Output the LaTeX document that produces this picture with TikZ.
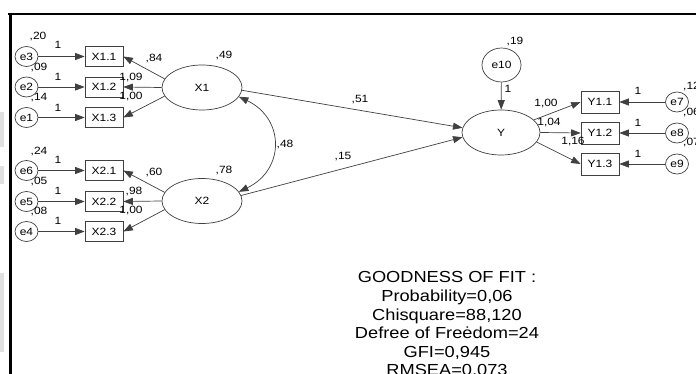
\documentclass[tikz,border=0pt]{standalone}
\usepackage{fontspec}
\setmainfont{Liberation Sans}[FakeStretch=1.14]
\usetikzlibrary{arrows.meta,shapes.geometric}
\begin{document}
\begin{tikzpicture}[x=1pt,y=-1pt,
  every node/.style={font=\fontsize{10.5}{12.5}\selectfont},
  obs/.style={draw=black!75, line width=0.7pt, minimum width=38pt, minimum height=20pt, inner sep=0pt},
  err/.style={ellipse, draw=black!75, line width=0.7pt, minimum width=23pt, minimum height=20pt, inner sep=0pt},
  lat/.style={ellipse, draw=black!75, line width=0.7pt, minimum width=80pt, minimum height=45pt, inner sep=0pt},
  arr/.style={-{Triangle[length=9.5pt,width=7pt]}, draw=black!75, line width=0.7pt},
  darr/.style={{Triangle[length=9.5pt,width=7pt]}-{Triangle[length=9.5pt,width=7pt]}, draw=black!75, line width=0.7pt},
  lbl/.style={inner sep=0pt},
  fit/.style={inner sep=0pt, align=center, font=\fontsize{16}{18.6}\selectfont}
]
\useasboundingbox (0,0) rectangle (696,374);
\fill[white] (0,0) rectangle (696,374);
% screenshot strip on the left
\fill[black!12] (0,112) rectangle (4,147);
\fill[black!12] (0,166) rectangle (4,184);
\fill[black!12] (0,273) rectangle (4,352);
% frame
\draw[line width=2.7pt] (8,14) -- (696,14);
\draw[line width=2.7pt] (10.6,12.7) -- (10.6,374);

% X1 group
\node[err] (e3) at (26.5,56.5) {e3};
\node[err] (e2) at (26.5,87) {e2};
\node[err] (e1) at (26.5,117.5) {e1};
\node[obs] (X11) at (104,56.5) {X1.1};
\node[obs] (X12) at (104,87) {X1.2};
\node[obs] (X13) at (104,117.5) {X1.3};
\node[lat] (X1) at (202,87.5) {X1};

% X2 group
\node[err] (e6) at (26.5,170.5) {e6};
\node[err] (e5) at (26.5,201.5) {e5};
\node[err] (e4) at (26.5,231.5) {e4};
\node[obs] (X21) at (104,170.5) {X2.1};
\node[obs] (X22) at (104,201.5) {X2.2};
\node[obs] (X23) at (104,231.5) {X2.3};
\node[lat] (X2) at (202,201) {X2};

% Y group
\node[lat, minimum width=78pt] (Y) at (501,132.5) {Y};
\node[ellipse, draw=black!75, line width=0.7pt, minimum width=39pt, minimum height=34pt, inner sep=0pt] (e10) at (501.5,65) {e10};
\node[obs, minimum height=22pt] (Y11) at (600,102) {Y1.1};
\node[obs, minimum height=22pt] (Y12) at (600,133) {Y1.2};
\node[obs, minimum height=22pt] (Y13) at (600,164) {Y1.3};
\node[err] (e7) at (677,102) {e7};
\node[err] (e8) at (677,133) {e8};
\node[err] (e9) at (677,164) {e9};

% arrows X1 group
\draw[arr] (e3) -- (X11);
\draw[arr] (e2) -- (X12);
\draw[arr] (e1) -- (X13);
\draw[arr] (X1.167) -- (X11.east);
\draw[arr] (X1.west) -- (X12.east);
\draw[arr] (X1.193) -- (X13.east);
% arrows X2 group
\draw[arr] (e6) -- (X21);
\draw[arr] (e5) -- (X22);
\draw[arr] (e4) -- (X23);
\draw[arr] (X2.167) -- (X21.east);
\draw[arr] (X2.west) -- (X22.east);
\draw[arr] (X2.193) -- (X23.east);
% structural
\draw[arr] (X1.-4) -- (Y.173);
\draw[arr] (X2.8) -- (Y.187);
\draw[darr] (X1.-14) .. controls +(46,22) and +(46,-22) .. (X2.14);
\draw[arr] (e10) -- (Y);
% Y group
\draw[arr] (Y.21) -- (Y11.west);
\draw[arr] (Y.east) -- (Y12.west);
\draw[arr] (Y.-15) -- (Y13.west);
\draw[arr] (e7) -- (Y11);
\draw[arr] (e8) -- (Y12);
\draw[arr] (e9) -- (Y13);

% labels X1 group
\node[lbl] (l20) at (38,37) {,20};
\node[lbl] (l09) at (39,68) {,09};
\node[lbl] (l14) at (39,98) {,14};
\node[lbl] (o1) at (58,45) {1};
\node[lbl] (o2) at (58,77) {1};
\node[lbl] (o3) at (58,108) {1};
\node[lbl] (l84) at (154,59) {,84};
\node[lbl] (l109) at (131,78) {1,09};
\node[lbl] (l100a) at (131,97) {1,00};
\node[lbl] (l49) at (224,56) {,49};
% labels X2 group
\node[lbl] (l24) at (39,152) {,24};
\node[lbl] (l05) at (39,182) {,05};
\node[lbl] (l08) at (39,212) {,08};
\node[lbl] (o4) at (58,160) {1};
\node[lbl] (o5) at (58,191) {1};
\node[lbl] (o6) at (58,221) {1};
\node[lbl] (l60) at (154,173) {,60};
\node[lbl] (l98) at (134,192) {,98};
\node[lbl] (l100b) at (131,211) {1,00};
\node[lbl] (l78) at (224,171) {,78};
% structural labels
\node[lbl] (l48) at (285,145) {,48};
\node[lbl] (l51) at (360,100) {,51};
\node[lbl] (l15) at (343,157) {,15};
\node[lbl] (l19) at (515,42) {,19};
\node[lbl] (o10) at (508,89) {1};
% Y group labels
\node[lbl] (l100c) at (546,104) {1,00};
\node[lbl] (l104) at (549,123) {1,04};
\node[lbl] (l116) at (573,142) {1,16};
\node[lbl] (o7) at (638,91) {1};
\node[lbl] (o8) at (638,123) {1};
\node[lbl] (o9) at (638,154) {1};
\node[lbl, anchor=west] (l12) at (683,87) {,12};
\node[lbl, anchor=west] (l06) at (683,113) {,06};
\node[lbl, anchor=west] (l07) at (683,143) {,07};

% goodness of fit
\node[fit, anchor=north] (gof) at (447,271.5) {GOODNESS OF FIT :\\Probability=0,06\\Chisquare=88,120\\Defree of Freėdom=24\\GFI=0,945\\RMSEA=0,073};
\end{tikzpicture}
\end{document}
